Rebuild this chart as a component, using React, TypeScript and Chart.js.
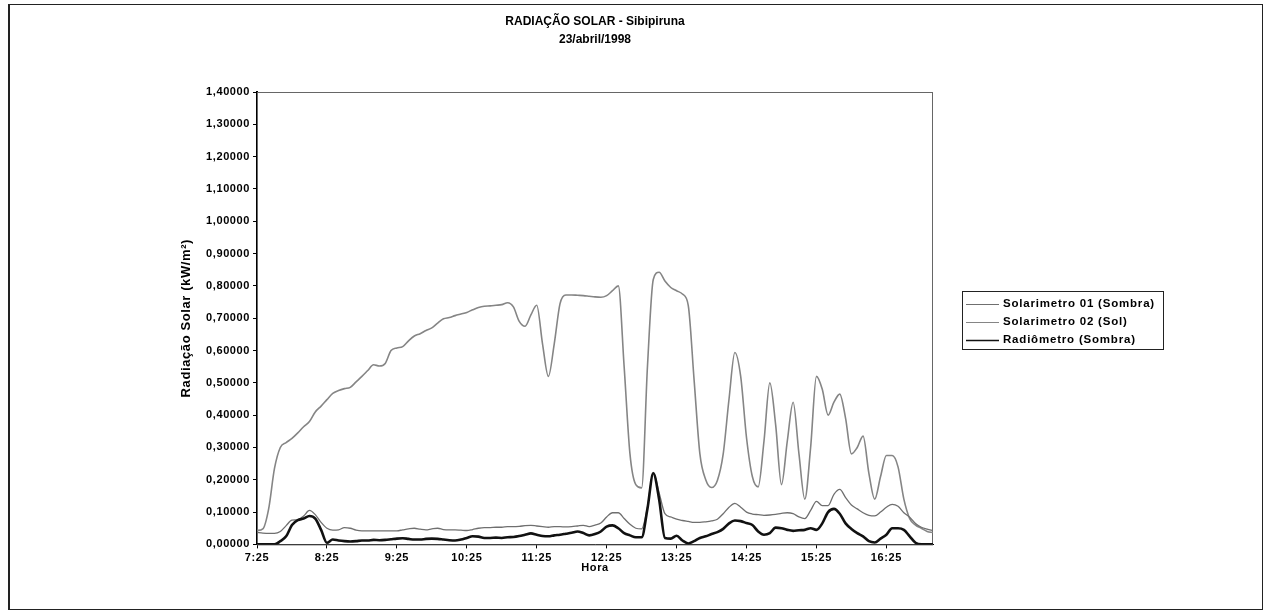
import React, { useEffect, useRef } from 'react';
import { Chart, registerables } from 'chart.js';

Chart.register(...registerables);

const FONT = '"Liberation Sans", Arial, Helvetica, sans-serif';

const chartTitle = ['RADIAÇÃO SOLAR - Sibipiruna', '23/abril/1998'];
const yAxisTitle = 'Radiação Solar (kW/m²)';
const xAxisTitle = 'Hora';
const seriesNames = ['Solarimetro 01 (Sombra)', 'Solarimetro 02 (Sol)', 'Radiômetro (Sombra)'];

const timeLabels = [
  '7:25', '7:30', '7:35', '7:40', '7:45', '7:50', '7:55',
  '8:00', '8:05', '8:10', '8:15', '8:20', '8:25', '8:30', '8:35', '8:40', '8:45', '8:50', '8:55',
  '9:00', '9:05', '9:10', '9:15', '9:20', '9:25', '9:30', '9:35', '9:40', '9:45', '9:50', '9:55',
  '10:00', '10:05', '10:10', '10:15', '10:20', '10:25', '10:30', '10:35', '10:40', '10:45', '10:50', '10:55',
  '11:00', '11:05', '11:10', '11:15', '11:20', '11:25', '11:30', '11:35', '11:40', '11:45', '11:50', '11:55',
  '12:00', '12:05', '12:10', '12:15', '12:20', '12:25', '12:30', '12:35', '12:40', '12:45', '12:50', '12:55',
  '13:00', '13:05', '13:10', '13:15', '13:20', '13:25', '13:30', '13:35', '13:40', '13:45', '13:50', '13:55',
  '14:00', '14:05', '14:10', '14:15', '14:20', '14:25', '14:30', '14:35', '14:40', '14:45', '14:50', '14:55',
  '15:00', '15:05', '15:10', '15:15', '15:20', '15:25', '15:30', '15:35', '15:40', '15:45', '15:50', '15:55',
  '16:00', '16:05', '16:10', '16:15', '16:20', '16:25', '16:30', '16:35', '16:40', '16:45', '16:50', '16:55',
  '17:00', '17:05',
];

const solarimetro01Sombra = [
  0.037, 0.035, 0.034, 0.034, 0.04, 0.058, 0.075, 0.076, 0.088, 0.105,
  0.092, 0.068, 0.05, 0.044, 0.045, 0.052, 0.05, 0.044, 0.042, 0.042,
  0.042, 0.042, 0.042, 0.042, 0.042, 0.045, 0.048, 0.05, 0.047, 0.045,
  0.048, 0.05, 0.046, 0.045, 0.045, 0.044, 0.043, 0.046, 0.05, 0.052,
  0.052, 0.053, 0.053, 0.055, 0.055, 0.056, 0.058, 0.059, 0.057, 0.055,
  0.053, 0.055, 0.055, 0.054, 0.055, 0.057, 0.059, 0.055, 0.06, 0.066,
  0.085, 0.098, 0.098, 0.08, 0.062, 0.05, 0.048, 0.115, 0.223, 0.16,
  0.095, 0.085, 0.078, 0.074, 0.071, 0.068, 0.068, 0.07, 0.073, 0.078,
  0.095, 0.115, 0.127, 0.115, 0.1, 0.094, 0.092, 0.09, 0.091, 0.093,
  0.096, 0.098, 0.095, 0.085, 0.08, 0.105, 0.133, 0.12, 0.12, 0.155,
  0.17, 0.145, 0.122, 0.11, 0.098, 0.09, 0.088, 0.1, 0.115, 0.124,
  0.118, 0.098, 0.084, 0.065, 0.053, 0.047, 0.043,
];

const solarimetro02Sol = [
  0.043, 0.048, 0.11, 0.235, 0.3, 0.315, 0.328, 0.345, 0.364, 0.38,
  0.41, 0.428, 0.448, 0.467, 0.476, 0.482, 0.486, 0.503, 0.52, 0.538,
  0.556, 0.552, 0.56, 0.6, 0.608, 0.612, 0.63, 0.645, 0.652, 0.662,
  0.67, 0.685, 0.698, 0.702, 0.708, 0.713, 0.718, 0.726, 0.733, 0.737,
  0.738, 0.74, 0.742, 0.748, 0.735, 0.69, 0.675, 0.71, 0.74, 0.62,
  0.52, 0.62, 0.745, 0.772, 0.772, 0.771, 0.77, 0.768, 0.766, 0.765,
  0.77, 0.785, 0.8, 0.55, 0.28, 0.185, 0.175, 0.55, 0.82, 0.842,
  0.815, 0.795, 0.785, 0.775, 0.74, 0.51, 0.28, 0.2, 0.176, 0.198,
  0.28, 0.45, 0.594, 0.52, 0.33, 0.21, 0.178, 0.32, 0.5, 0.37,
  0.185, 0.32, 0.44, 0.28, 0.14, 0.3, 0.52, 0.48, 0.4, 0.44,
  0.465, 0.39, 0.28, 0.3, 0.335, 0.22, 0.14, 0.21, 0.275, 0.275,
  0.24, 0.14, 0.08, 0.06, 0.05, 0.04, 0.037,
];

const radiometroSombra = [
  0, 0, 0, 0, 0.01, 0.025, 0.06, 0.075, 0.08, 0.088,
  0.08, 0.045, 0.005, 0.015, 0.012, 0.01, 0.009, 0.01, 0.012, 0.012,
  0.014, 0.013, 0.014, 0.016, 0.018, 0.019, 0.017, 0.015, 0.015, 0.017,
  0.018, 0.017, 0.015, 0.013, 0.012, 0.015, 0.02, 0.025, 0.024, 0.02,
  0.02, 0.021, 0.02, 0.022, 0.023, 0.026, 0.03, 0.034, 0.03, 0.026,
  0.025, 0.028, 0.03, 0.033, 0.036, 0.04, 0.035, 0.028, 0.032, 0.04,
  0.055, 0.059, 0.05, 0.035, 0.028, 0.022, 0.022, 0.11, 0.22, 0.14,
  0.02, 0.018, 0.027, 0.012, 0.003, 0.01, 0.02, 0.025, 0.032, 0.038,
  0.048, 0.065, 0.074, 0.072, 0.066, 0.06, 0.04, 0.03, 0.035, 0.052,
  0.05, 0.045, 0.042, 0.044, 0.045, 0.05, 0.045, 0.065, 0.1, 0.11,
  0.095, 0.065, 0.048, 0.035, 0.025, 0.01, 0.006, 0.018, 0.03, 0.05,
  0.05, 0.045, 0.025, 0.005, 0, 0, 0,
];

const seriesColors = ['#6f6f6f', '#858585', '#111111'];
const seriesWidths = [1.3, 1.6, 2.6];

const framePlugin = {
  id: 'framePlugin',
  beforeDraw(chart: any) {
    const { ctx } = chart;
    ctx.save();
    ctx.fillStyle = '#ffffff';
    ctx.fillRect(0, 0, chart.width, chart.height);
    ctx.strokeStyle = '#222';
    ctx.lineWidth = 1;
    ctx.strokeRect(8.5, 4.5, 1254, 605);
    ctx.lineWidth = 2;
    ctx.beginPath();
    ctx.moveTo(9, 4);
    ctx.lineTo(9, 610);
    ctx.stroke();
    ctx.restore();
    // slightly wider text, like the scanned original
    try { (ctx as any).letterSpacing = '0.6px'; } catch (e) { /* ignore */ }
  },
  beforeDatasetsDraw(chart: any) {
    const { ctx, chartArea: a } = chart;
    ctx.save();
    ctx.strokeStyle = '#666';
    ctx.lineWidth = 1;
    ctx.strokeRect(a.left + 0.5, a.top + 0.5, a.right - a.left - 1, a.bottom - a.top);
    ctx.restore();
  },
  afterDraw(chart: any) {
    const { ctx, chartArea: a } = chart;
    ctx.save();
    // chart title, centred over the plot area
    try { (ctx as any).letterSpacing = '0px'; } catch (e) { /* ignore */ }
    ctx.fillStyle = '#000';
    ctx.font = `bold 12px ${FONT}`;
    ctx.textAlign = 'center';
    ctx.textBaseline = 'middle';
    const cx = (a.left + a.right) / 2;
    chartTitle.forEach((t, i) => ctx.fillText(t, cx, 22 + i * 18));

    // legend
    try { (ctx as any).letterSpacing = '0.8px'; } catch (e) { /* ignore */ }
    const bx = 962, by = 291, bw = 201, bh = 58;
    ctx.fillStyle = '#fff';
    ctx.fillRect(bx, by, bw, bh);
    ctx.strokeStyle = '#222';
    ctx.lineWidth = 1;
    ctx.strokeRect(bx + 0.5, by + 0.5, bw, bh);
    ctx.font = `bold 11.5px ${FONT}`;
    ctx.textBaseline = 'middle';
    ctx.textAlign = 'left';
    chart.data.datasets.forEach((ds: any, i: number) => {
      const y = by + 13 + i * 18;
      ctx.strokeStyle = ds.borderColor;
      ctx.lineWidth = i === 2 ? 1.6 : 1;
      ctx.beginPath();
      ctx.moveTo(966, y + 0.5);
      ctx.lineTo(999, y + 0.5);
      ctx.stroke();
      ctx.fillStyle = '#000';
      ctx.fillText(ds.label, 1003, y);
    });
    ctx.restore();
  },
};

export default function App() {
  const canvasRef = useRef<HTMLCanvasElement | null>(null);

  useEffect(() => {
    const canvas = canvasRef.current;
    if (!canvas) return;
    const tickFont = { family: FONT, size: 11, weight: 'bold' as const };
    const chart = new Chart(canvas, {
      type: 'line',
      data: {
        labels: timeLabels,
        datasets: [
          { label: seriesNames[0], data: solarimetro01Sombra, borderColor: seriesColors[0], borderWidth: seriesWidths[0], order: 1 },
          { label: seriesNames[1], data: solarimetro02Sol, borderColor: seriesColors[1], borderWidth: seriesWidths[1], order: 2 },
          { label: seriesNames[2], data: radiometroSombra, borderColor: seriesColors[2], borderWidth: seriesWidths[2], order: 0 },
        ].map((d) => ({ ...d, pointRadius: 0, fill: false, tension: 0.4, cubicInterpolationMode: 'monotone' as const })),
      },
      options: {
        responsive: false,
        animation: false,
        devicePixelRatio: 1,
        layout: { padding: { left: 176, right: 334, top: 92, bottom: 36 } },
        plugins: {
          legend: { display: false },
          tooltip: { enabled: false },
          title: { display: false },
        },
        scales: {
          x: {
            type: 'category',
            offset: false,
            border: { color: '#000', width: 1 },
            grid: { drawOnChartArea: false, tickLength: 4, color: '#000' },
            ticks: {
              autoSkip: false,
              maxRotation: 0,
              minRotation: 0,
              padding: 3,
              color: '#000',
              font: tickFont,
              callback: (_v: any, i: number) => (i % 12 === 0 ? timeLabels[i] : null),
            },
            title: { display: true, text: xAxisTitle, color: '#000', font: tickFont, padding: { top: 0, bottom: 4 } },
            afterFit: (s: any) => { s.height = 34.6; },
          },
          y: {
            min: 0,
            max: 1.4,
            border: { color: '#000', width: 2 },
            grid: { drawOnChartArea: false, tickLength: 4, color: '#000' },
            ticks: {
              stepSize: 0.1,
              padding: 3,
              color: '#000',
              font: tickFont,
              callback: (v: any) => Number(v).toFixed(5).replace('.', ','),
            },
            title: { display: true, text: yAxisTitle, color: '#000', font: { family: FONT, size: 13, weight: 'bold' }, padding: { top: 3, bottom: 4 } },
            afterFit: (s: any) => { s.width = 81; },
          },
        },
      },
      plugins: [framePlugin],
    });
    return () => chart.destroy();
  }, []);

  return (
    <div style={{ position: 'fixed', left: 0, top: 0, width: 1267, height: 615, background: '#fff' }}>
      <canvas ref={canvasRef} width={1267} height={615} style={{ width: 1267, height: 615, display: 'block' }} />
    </div>
  );
}
